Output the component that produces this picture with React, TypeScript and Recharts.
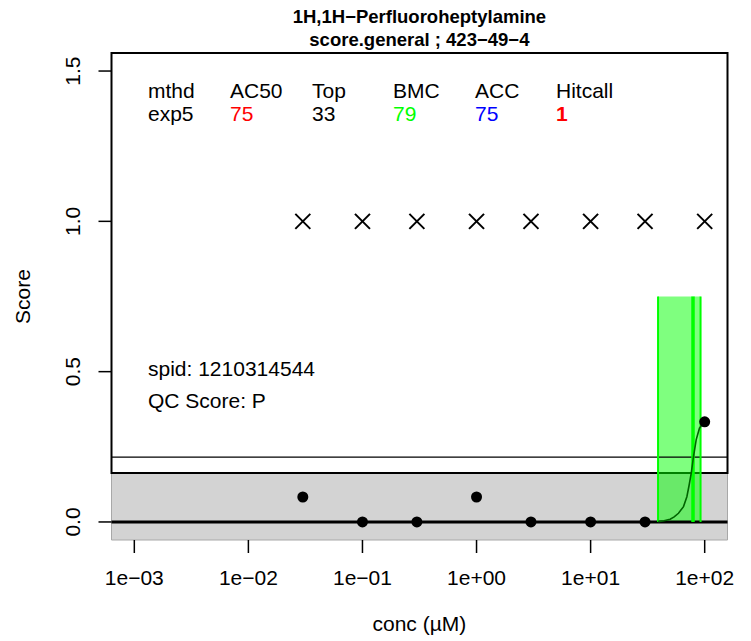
import { ComposedChart, XAxis, YAxis, Scatter, Line, ReferenceArea, ReferenceLine } from 'recharts';

// observed responses per concentration (uM)
const concs = [0.03, 0.1, 0.3, 1, 3, 10, 30, 100];
const responses = [0.083, 0, 0, 0.083, 0, 0, 0, 0.333];
const flagScores = [1, 1, 1, 1, 1, 1, 1, 1];

// fitted exp5 curve (flat part hidden under the zero line)
const curveConcs = [39, 44, 49.8, 54, 58.9, 65.2, 69.8, 73.1, 76.2, 79.8, 84.2, 90, 97.5, 100];
const curveResps = [0.001, 0.004, 0.009, 0.017, 0.029, 0.051, 0.084, 0.123, 0.162, 0.217, 0.273, 0.312, 0.33, 0.333];

const xTicks = [1e-3, 1e-2, 1e-1, 1, 10, 100];
const yTicks = [0, 0.5, 1, 1.5];

const bmc = 79;
const bmcLower = 39;
const bmcUpper = 92;
const bmcBoxTop = 0.75;
const cutoff = 0.163;
const bmadLine = 0.216;

const tableHeaders = ['mthd', 'AC50', 'Top', 'BMC', 'ACC', 'Hitcall'];
const tableValues = ['exp5', '75', '33', '79', '75', '1'];
const tableColors = ['#000000', '#ff0000', '#000000', '#00ff00', '#0000ff', '#ff0000'];

const X_MIN = Math.pow(10, -3.2);
const X_MAX = Math.pow(10, 2.2);
const Y_MIN = -0.06;
const Y_MAX = 1.56;

const FONT = '"Liberation Sans", Arial, Helvetica, sans-serif';

const pointData = concs.map((c, i) => ({ conc: c, resp: responses[i] }));
const flagData = concs.map((c, i) => ({ conc: c, resp: flagScores[i] }));
const curveData = curveConcs.map((c, i) => ({ conc: c, resp: curveResps[i] }));

function fmtExp(v: number) {
  const e = Math.round(Math.log10(v));
  return '1e' + (e < 0 ? '\u2212' : '+') + String(Math.abs(e)).padStart(2, '0');
}

const XTick = (props: any) => {
  const { x, payload } = props;
  return (
    <text x={x} y={585} textAnchor="middle" fontSize={21} fontFamily={FONT} fill="#000">
      {fmtExp(payload.value)}
    </text>
  );
};

const YTick = (props: any) => {
  const { y, payload } = props;
  return (
    <text
      x={80.5}
      y={y}
      transform={`rotate(-90, 80.5, ${y})`}
      textAnchor="middle"
      fontSize={21}
      fontFamily={FONT}
      fill="#000"
    >
      {payload.value.toFixed(1)}
    </text>
  );
};

const CrossShape = (props: any) => {
  const { cx, cy } = props;
  const h = 7.5;
  return (
    <g stroke="#000" strokeWidth={2}>
      <line x1={cx - h} y1={cy - h} x2={cx + h} y2={cy + h} />
      <line x1={cx - h} y1={cy + h} x2={cx + h} y2={cy - h} />
    </g>
  );
};

const DotShape = (props: any) => {
  const { cx, cy } = props;
  return <circle cx={cx} cy={cy} r={5.5} fill="#000" />;
};

const colX = [148, 230, 312, 393, 475, 556];

export default function App() {
  return (
    <div style={{ position: 'absolute', left: 0, top: 0, background: '#fff', fontFamily: FONT }}>
      <ComposedChart
        width={751}
        height={641}
        margin={{ top: 53, right: 23.5, bottom: 0, left: 0 }}
      >
        <XAxis
          type="number"
          dataKey="conc"
          scale="log"
          domain={[X_MIN, X_MAX]}
          allowDataOverflow
          ticks={xTicks}
          tick={<XTick />}
          tickSize={13}
          tickLine={{ stroke: '#000', strokeWidth: 1.5 }}
          axisLine={false}
          height={101}
        />
        <YAxis
          type="number"
          dataKey="resp"
          domain={[Y_MIN, Y_MAX]}
          allowDataOverflow
          ticks={yTicks}
          tick={<YTick />}
          tickSize={13}
          tickLine={{ stroke: '#000', strokeWidth: 1.5 }}
          axisLine={false}
          width={111.5}
        />
        <ReferenceArea
          x1={X_MIN}
          x2={X_MAX}
          y1={Y_MIN}
          y2={cutoff}
          fill="#d3d3d3"
          fillOpacity={1}
          stroke="#a8a8a8"
          strokeWidth={1}
        />
        <ReferenceArea
          x1={X_MIN}
          x2={X_MAX}
          y1={cutoff}
          y2={Y_MAX}
          fill="none"
          stroke="#000"
          strokeWidth={2}
        />
        <ReferenceLine y={bmadLine} stroke="#000" strokeWidth={1.2} />
        <ReferenceLine y={0} stroke="#000" strokeWidth={3} />
        <ReferenceArea
          x1={bmcLower}
          x2={bmcUpper}
          y1={0}
          y2={bmcBoxTop}
          fill="#00ff00"
          fillOpacity={0.5}
          stroke="none"
        />
        <ReferenceLine segment={[{ x: bmcLower, y: 0 }, { x: bmcLower, y: bmcBoxTop }]} stroke="#00ff00" strokeWidth={2} />
        <ReferenceLine segment={[{ x: bmcUpper, y: 0 }, { x: bmcUpper, y: bmcBoxTop }]} stroke="#00ff00" strokeWidth={2} />
        <ReferenceLine segment={[{ x: bmc, y: 0 }, { x: bmc, y: bmcBoxTop }]} stroke="#00ff00" strokeWidth={3.5} />
        <Line
          data={curveData}
          dataKey="resp"
          type="linear"
          stroke="#006400"
          strokeWidth={1.6}
          dot={false}
          isAnimationActive={false}
        />
        <Scatter data={flagData} dataKey="resp" shape={<CrossShape />} isAnimationActive={false} />
        <Scatter data={pointData} dataKey="resp" shape={<DotShape />} isAnimationActive={false} />

        <text x={419.4} y={23} textAnchor="middle" fontSize={18.5} fontWeight="bold" fontFamily={FONT}>
          1H,1H{'\u2212'}Perfluoroheptylamine
        </text>
        <text x={419.4} y={45.5} textAnchor="middle" fontSize={18.5} fontWeight="bold" fontFamily={FONT}>
          score.general ; 423{'\u2212'}49{'\u2212'}4
        </text>
        {tableHeaders.map((h, i) => (
          <text key={'h' + i} x={colX[i]} y={98} fontSize={21} fontFamily={FONT} fill="#000">
            {h}
          </text>
        ))}
        {tableValues.map((v, i) => (
          <text
            key={'v' + i}
            x={colX[i]}
            y={121}
            fontSize={21}
            fontFamily={FONT}
            fill={tableColors[i]}
            fontWeight={i === 5 ? 'bold' : 'normal'}
          >
            {v}
          </text>
        ))}
        <text x={148} y={376} fontSize={21} fontFamily={FONT}>spid: 1210314544</text>
        <text x={148} y={408} fontSize={21} fontFamily={FONT}>QC Score: P</text>
        <text x={419.4} y={631} textAnchor="middle" fontSize={21} fontFamily={FONT}>
          conc ({'\u00b5'}M)
        </text>
        <text x={29.5} y={296.5} transform="rotate(-90, 29.5, 296.5)" textAnchor="middle" fontSize={21} fontFamily={FONT}>
          Score
        </text>
      </ComposedChart>
    </div>
  );
}
